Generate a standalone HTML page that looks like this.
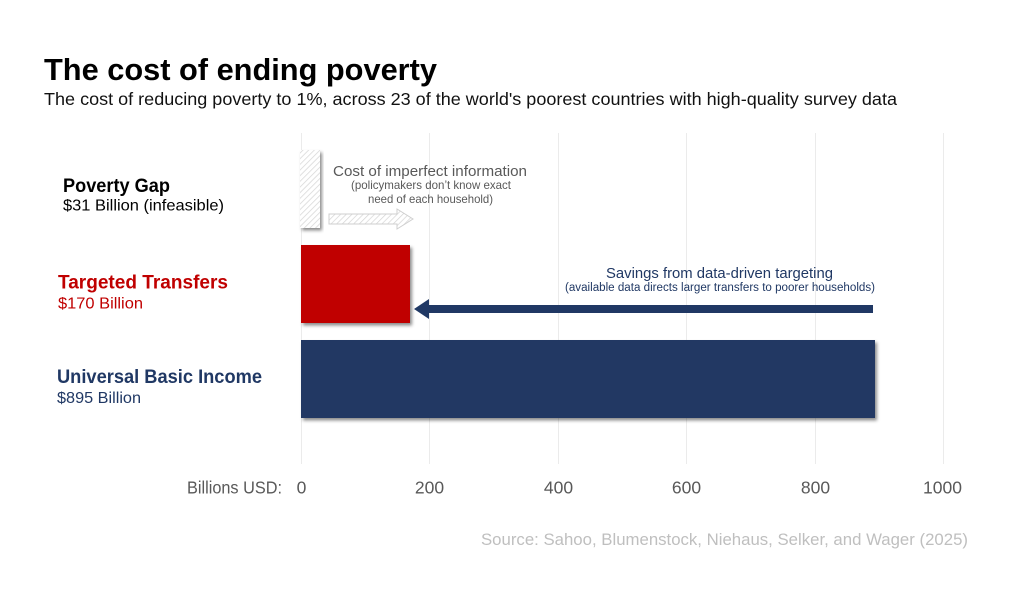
<!DOCTYPE html>
<html>
<head>
<meta charset="utf-8">
<style>
  html,body{margin:0;padding:0;background:#fff;}
  svg{display:block;}
  text{font-family:"Liberation Sans", Arial, sans-serif;}
</style>
</head>
<body>
<svg width="1024" height="593" viewBox="0 0 1024 593" xmlns="http://www.w3.org/2000/svg">
  <defs>
    <pattern id="hatch" patternUnits="userSpaceOnUse" width="4" height="4" patternTransform="rotate(45)">
      <rect width="4" height="4" fill="#ffffff"/>
      <line x1="0" y1="0" x2="0" y2="4" stroke="#d4d4d4" stroke-width="1.4"/>
    </pattern>
    <filter id="shadow" x="-20%" y="-20%" width="140%" height="140%">
      <feDropShadow dx="2" dy="2.5" stdDeviation="1.6" flood-color="#000" flood-opacity="0.45"/>
    </filter>
  </defs>
  <rect width="1024" height="593" fill="#fff"/>

  <!-- Title -->
  <text x="44" y="80" font-size="31" font-weight="bold" fill="#000" textLength="393" lengthAdjust="spacingAndGlyphs">The cost of ending poverty</text>
  <text x="44" y="105" font-size="17.5" fill="#111" textLength="853" lengthAdjust="spacingAndGlyphs">The cost of reducing poverty to 1%, across 23 of the world's poorest countries with high-quality survey data</text>

  <!-- Gridlines -->
  <g stroke="#ebebeb" stroke-width="1">
    <line x1="301.5" y1="133" x2="301.5" y2="464"/>
    <line x1="429.5" y1="133" x2="429.5" y2="464"/>
    <line x1="558.5" y1="133" x2="558.5" y2="464"/>
    <line x1="686.5" y1="133" x2="686.5" y2="464"/>
    <line x1="815.5" y1="133" x2="815.5" y2="464"/>
    <line x1="943.5" y1="133" x2="943.5" y2="464"/>
  </g>

  <!-- Bars -->
  <rect x="300" y="150" width="20" height="78" fill="url(#hatch)" filter="url(#shadow)"/>
  <rect x="301" y="245" width="109" height="78" fill="#C00000" filter="url(#shadow)"/>
  <rect x="301" y="340" width="574" height="78" fill="#203864" filter="url(#shadow)"/>

  <!-- Hatched arrow -->
  <polygon points="329,214 397,214 397,209 413,219 397,229 397,224 329,224" fill="url(#hatch)" stroke="#cfcfcf" stroke-width="1"/>

  <!-- Navy arrow -->
  <polygon points="414,309 429,299 429,305 873,305 873,313 429,313 429,319" fill="#203864"/>

  <!-- Annotations -->
  <text x="333" y="176" font-size="14.5" fill="#595959" textLength="194" lengthAdjust="spacingAndGlyphs">Cost of imperfect information</text>
  <text x="351" y="189" font-size="12" fill="#595959" textLength="160" lengthAdjust="spacingAndGlyphs">(policymakers don’t know exact</text>
  <text x="368" y="203" font-size="12" fill="#595959" textLength="125" lengthAdjust="spacingAndGlyphs">need of each household)</text>

  <text x="606" y="278" font-size="14.5" fill="#203864" textLength="227" lengthAdjust="spacingAndGlyphs">Savings from data-driven targeting</text>
  <text x="565" y="291" font-size="11.5" fill="#203864" textLength="310" lengthAdjust="spacingAndGlyphs">(available data directs larger transfers to poorer households)</text>

  <!-- Left labels -->
  <text x="63" y="192" font-size="19.5" font-weight="bold" fill="#000" textLength="107" lengthAdjust="spacingAndGlyphs">Poverty Gap</text>
  <text x="63" y="210.5" font-size="16" fill="#000" textLength="161" lengthAdjust="spacingAndGlyphs">$31 Billion (infeasible)</text>

  <text x="58" y="288.5" font-size="19.5" font-weight="bold" fill="#C00000" textLength="170" lengthAdjust="spacingAndGlyphs">Targeted Transfers</text>
  <text x="58" y="308.5" font-size="16" fill="#C00000" textLength="85" lengthAdjust="spacingAndGlyphs">$170 Billion</text>

  <text x="57" y="383" font-size="19.5" font-weight="bold" fill="#203864" textLength="205" lengthAdjust="spacingAndGlyphs">Universal Basic Income</text>
  <text x="57" y="403" font-size="16" fill="#203864" textLength="84" lengthAdjust="spacingAndGlyphs">$895 Billion</text>

  <!-- Axis labels -->
  <g font-size="17.5" fill="#595959">
    <text x="187" y="493.5" textLength="95" lengthAdjust="spacingAndGlyphs">Billions USD:</text>
    <text x="301.5" y="493.5" text-anchor="middle">0</text>
    <text x="429.5" y="493.5" text-anchor="middle">200</text>
    <text x="558.5" y="493.5" text-anchor="middle">400</text>
    <text x="686.5" y="493.5" text-anchor="middle">600</text>
    <text x="815.5" y="493.5" text-anchor="middle">800</text>
    <text x="942.5" y="493.5" text-anchor="middle">1000</text>
  </g>

  <!-- Source -->
  <text x="481" y="545" font-size="17" fill="#bfbfbf" textLength="487" lengthAdjust="spacingAndGlyphs">Source: Sahoo, Blumenstock, Niehaus, Selker, and Wager (2025)</text>
</svg>
</body>
</html>
